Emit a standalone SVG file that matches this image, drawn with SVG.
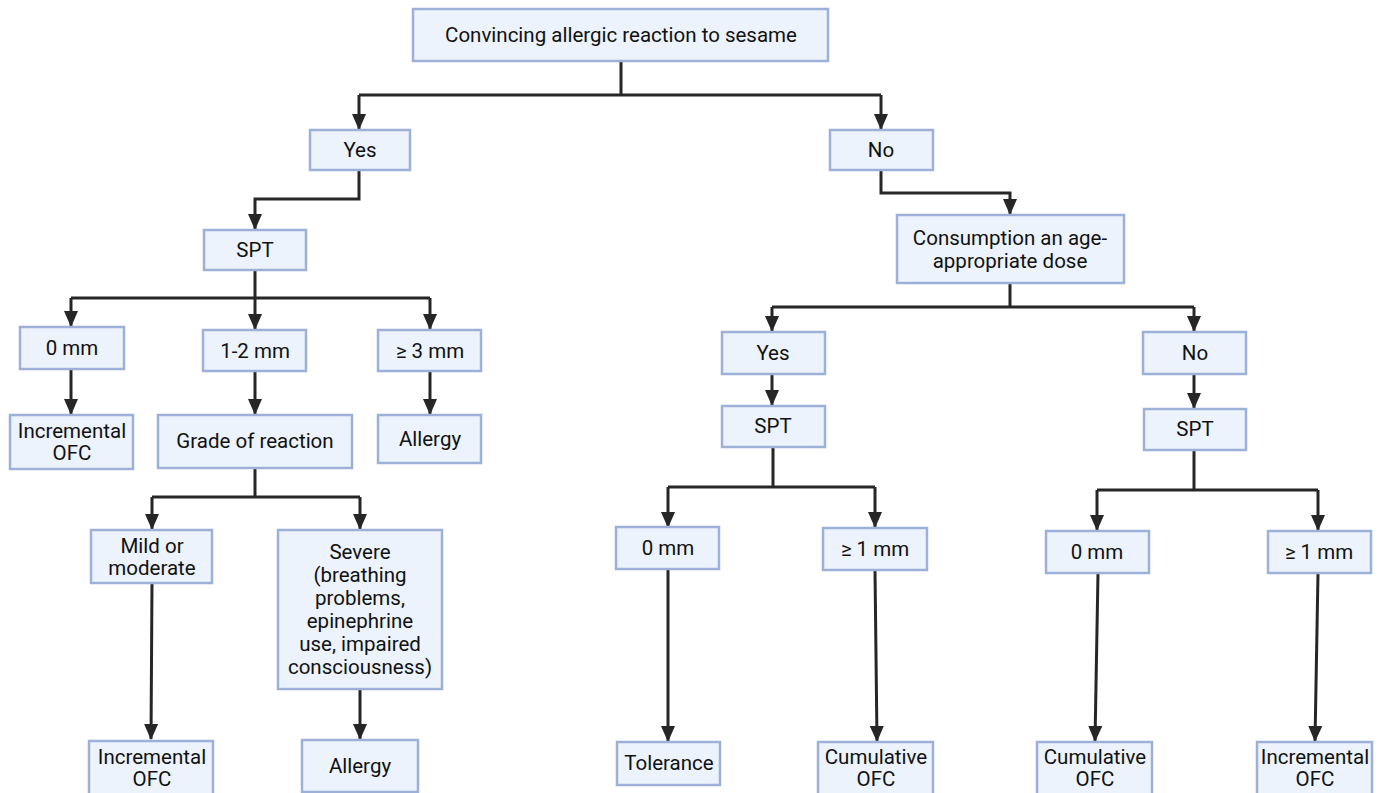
<svg xmlns="http://www.w3.org/2000/svg" width="1387" height="793" viewBox="0 0 1387 793">
<style>
.b{fill:#ECF3FC;stroke:#9DB1D8;stroke-width:2.5}
.t{font-family:Roboto,"Liberation Sans",sans-serif;font-size:20.5px;fill:#111;text-anchor:middle}
.c{fill:none;stroke:#262626;stroke-width:3;stroke-linejoin:miter}
</style>
<defs>
<marker id="a" markerUnits="userSpaceOnUse" markerWidth="16" markerHeight="14" viewBox="0 -7 16 14" refX="15" refY="0" orient="auto">
<path d="M0,-7 L16,0 L0,7 z" fill="#262626"/>
</marker>
</defs>
<rect width="1387" height="793" fill="#fff"/>
<g id="connectors">
<path class="c" d="M621,61 V95 M359,95 H881" />
<path class="c" d="M359,95 V129" marker-end="url(#a)"/>
<path class="c" d="M881,95 V129" marker-end="url(#a)"/>
<path class="c" d="M359,170 V199 H255 V229" marker-end="url(#a)"/>
<path class="c" d="M255,270 V298 M71,298 H430"/>
<path class="c" d="M71,298 V326" marker-end="url(#a)"/>
<path class="c" d="M255,298 V329" marker-end="url(#a)"/>
<path class="c" d="M430,298 V329" marker-end="url(#a)"/>
<path class="c" d="M71,369 V414" marker-end="url(#a)"/>
<path class="c" d="M255,371 V414" marker-end="url(#a)"/>
<path class="c" d="M430,371 V414" marker-end="url(#a)"/>
<path class="c" d="M255,468 V497 M152,497 H360"/>
<path class="c" d="M152,497 V529" marker-end="url(#a)"/>
<path class="c" d="M360,497 V529" marker-end="url(#a)"/>
<path class="c" d="M152,583 L151,739" marker-end="url(#a)"/>
<path class="c" d="M360,689 V739" marker-end="url(#a)"/>
<path class="c" d="M881,170 V193 H1010 V214" marker-end="url(#a)"/>
<path class="c" d="M1010,283 V307 M772,307 H1194"/>
<path class="c" d="M772,307 V331" marker-end="url(#a)"/>
<path class="c" d="M1194,307 V331" marker-end="url(#a)"/>
<path class="c" d="M772,374 V405" marker-end="url(#a)"/>
<path class="c" d="M1194,374 V408" marker-end="url(#a)"/>
<path class="c" d="M773,447 V487 M668,487 H875"/>
<path class="c" d="M668,487 V527" marker-end="url(#a)"/>
<path class="c" d="M875,487 V527" marker-end="url(#a)"/>
<path class="c" d="M1194,450 V490 M1097,490 H1318"/>
<path class="c" d="M1097,490 V530" marker-end="url(#a)"/>
<path class="c" d="M1318,490 V530" marker-end="url(#a)"/>
<path class="c" d="M668,569 V741" marker-end="url(#a)"/>
<path class="c" d="M875,570 L877,741" marker-end="url(#a)"/>
<path class="c" d="M1098,573 L1095,741" marker-end="url(#a)"/>
<path class="c" d="M1318,573 L1315,741" marker-end="url(#a)"/>
</g>
<g id="n-root"><rect class="b" x="413" y="9" width="415" height="52"/><text class="t" x="621" y="42">Convincing allergic reaction to sesame</text></g>
<g id="n-yes"><rect class="b" x="310" y="130" width="100" height="40"/><text class="t" x="360" y="157">Yes</text></g>
<g id="n-no"><rect class="b" x="830" y="130" width="103" height="40"/><text class="t" x="881" y="157">No</text></g>
<g id="n-spt1"><rect class="b" x="204" y="230" width="102" height="40"/><text class="t" x="255" y="257">SPT</text></g>
<g id="n-0mm1"><rect class="b" x="20" y="327" width="104" height="42"/><text class="t" x="72" y="355">0 mm</text></g>
<g id="n-12mm"><rect class="b" x="203" y="330" width="103" height="41"/><text class="t" x="255" y="358">1-2 mm</text></g>
<g id="n-3mm"><rect class="b" x="378" y="330" width="103" height="41"/><text class="t" x="430" y="358">≥ 3 mm</text></g>
<g id="n-inc1"><rect class="b" x="10" y="415" width="123" height="54"/><text class="t" x="72" y="438">Incremental</text><text class="t" x="72" y="460">OFC</text></g>
<g id="n-grade"><rect class="b" x="158" y="415" width="194" height="53"/><text class="t" x="255" y="448">Grade of reaction</text></g>
<g id="n-allergy1"><rect class="b" x="378" y="415" width="103" height="48"/><text class="t" x="430" y="446">Allergy</text></g>
<g id="n-mild"><rect class="b" x="91" y="530" width="121" height="53"/><text class="t" x="152" y="553">Mild or</text><text class="t" x="152" y="575">moderate</text></g>
<g id="n-severe"><rect class="b" x="278" y="530" width="164" height="159"/>
<text class="t" x="360" y="559">Severe</text><text class="t" x="360" y="582">(breathing</text><text class="t" x="360" y="605">problems,</text><text class="t" x="360" y="628">epinephrine</text><text class="t" x="360" y="651">use, impaired</text><text class="t" x="360" y="674">consciousness)</text></g>
<g id="n-inc2"><rect class="b" x="89" y="741" width="124" height="60"/><text class="t" x="152" y="764">Incremental</text><text class="t" x="152" y="786">OFC</text></g>
<g id="n-allergy2"><rect class="b" x="302" y="740" width="116" height="52"/><text class="t" x="360" y="773">Allergy</text></g>
<g id="n-cons"><rect class="b" x="897" y="215" width="227" height="68"/><text class="t" x="1010" y="245">Consumption an age-</text><text class="t" x="1010" y="268">appropriate dose</text></g>
<g id="n-yes2"><rect class="b" x="722" y="332" width="103" height="42"/><text class="t" x="773" y="360">Yes</text></g>
<g id="n-no2"><rect class="b" x="1143" y="332" width="103" height="42"/><text class="t" x="1195" y="360">No</text></g>
<g id="n-spt2"><rect class="b" x="722" y="406" width="103" height="41"/><text class="t" x="773" y="433">SPT</text></g>
<g id="n-spt3"><rect class="b" x="1144" y="409" width="102" height="41"/><text class="t" x="1195" y="436">SPT</text></g>
<g id="n-0mm2"><rect class="b" x="616" y="527" width="103" height="42"/><text class="t" x="668" y="555">0 mm</text></g>
<g id="n-1mm2"><rect class="b" x="823" y="528" width="104" height="42"/><text class="t" x="875" y="556">≥ 1 mm</text></g>
<g id="n-0mm3"><rect class="b" x="1046" y="531" width="103" height="42"/><text class="t" x="1097" y="559">0 mm</text></g>
<g id="n-1mm3"><rect class="b" x="1268" y="531" width="103" height="42"/><text class="t" x="1319" y="559">≥ 1 mm</text></g>
<g id="n-tol"><rect class="b" x="617" y="742" width="103" height="43"/><text class="t" x="669" y="770">Tolerance</text></g>
<g id="n-cum1"><rect class="b" x="818" y="742" width="115" height="60"/><text class="t" x="876" y="764">Cumulative</text><text class="t" x="876" y="786">OFC</text></g>
<g id="n-cum2"><rect class="b" x="1037" y="742" width="115" height="60"/><text class="t" x="1095" y="764">Cumulative</text><text class="t" x="1095" y="786">OFC</text></g>
<g id="n-inc3"><rect class="b" x="1257" y="742" width="115" height="60"/><text class="t" x="1315" y="764">Incremental</text><text class="t" x="1315" y="786">OFC</text></g>
</svg>
